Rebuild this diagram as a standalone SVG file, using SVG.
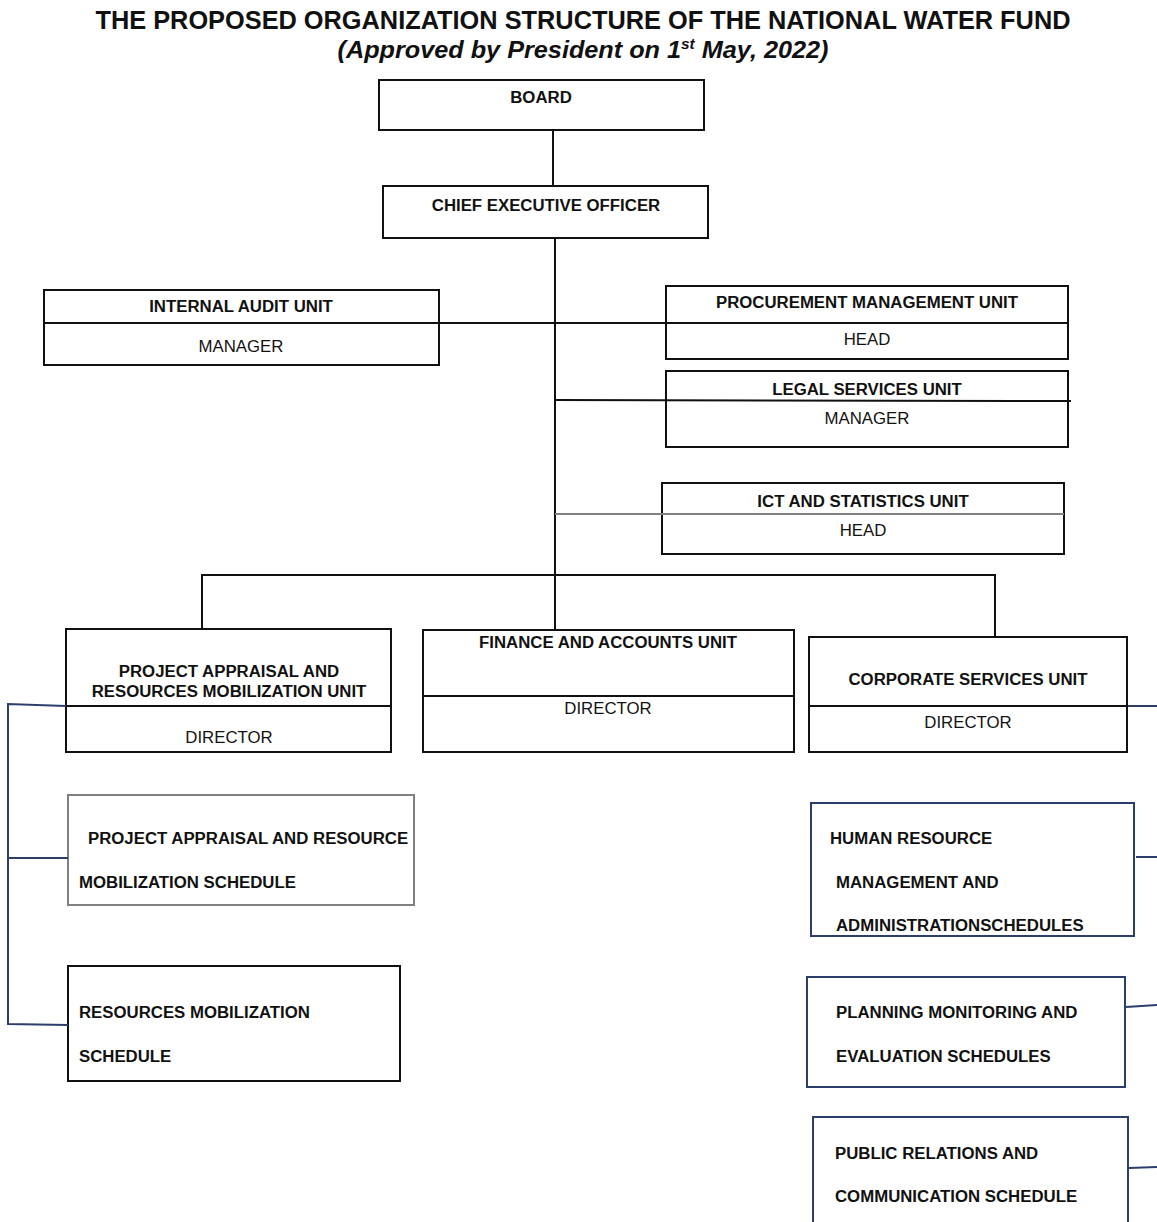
<svg xmlns="http://www.w3.org/2000/svg" width="1157" height="1222" viewBox="0 0 1157 1222">
<style>
text{font-family:"Liberation Sans",Arial,sans-serif;fill:#111}
.t{font-size:16.8px;font-weight:bold;text-anchor:middle}
.r{font-size:16.8px;text-anchor:middle}
.s{font-size:16.8px;font-weight:bold}
.box{fill:#fff;stroke:#111;stroke-width:2}
.obox{fill:none;stroke:#111;stroke-width:2}
.gbox{fill:#fff;stroke:#808080;stroke-width:2}
.nbox{fill:#fff;stroke:#2c3e6b;stroke-width:2}
.ln{stroke:#111;stroke-width:2;fill:none}
.gl{stroke:#808080;stroke-width:2;fill:none}
.nl{stroke:#2c3e6b;stroke-width:2;fill:none}
</style>
<rect width="1157" height="1222" fill="#fff"/>
<g id="title">
<text x="583" y="29" font-size="25" font-weight="bold" text-anchor="middle" textLength="975" lengthAdjust="spacingAndGlyphs">THE PROPOSED ORGANIZATION STRUCTURE OF THE NATIONAL WATER FUND</text>
<text x="583" y="58" font-size="23" font-weight="bold" font-style="italic" text-anchor="middle" textLength="491" lengthAdjust="spacingAndGlyphs">(Approved by President on 1<tspan font-size="14" dy="-9">st</tspan><tspan dy="9"> May, 2022)</tspan></text>
</g>
<g id="board">
<rect class="box" x="379" y="80" width="325" height="50"/>
<text class="t" x="541" y="103">BOARD</text>
</g>
<g id="ceo">
<rect class="box" x="383" y="186" width="325" height="52"/>
<text class="t" x="546" y="211">CHIEF EXECUTIVE OFFICER</text>
</g>
<g id="internal-audit">
<rect class="box" x="44" y="290" width="395" height="75"/>
<line class="ln" x1="44" y1="323" x2="439" y2="323"/>
<text class="t" x="241" y="312">INTERNAL AUDIT UNIT</text>
<text class="r" x="241" y="352">MANAGER</text>
</g>
<g id="procurement">
<rect class="box" x="666" y="286" width="402" height="73"/>
<line class="ln" x1="666" y1="323" x2="1068" y2="323"/>
<text class="t" x="867" y="308">PROCUREMENT MANAGEMENT UNIT</text>
<text class="r" x="867" y="345">HEAD</text>
</g>
<g id="legal">
<rect class="box" x="666" y="371" width="402" height="76"/>
<text class="t" x="867" y="395">LEGAL SERVICES UNIT</text>
<text class="r" x="867" y="424">MANAGER</text>
</g>
<g id="ict">
<rect class="box" x="662" y="483" width="402" height="71"/>
<text class="t" x="863" y="507">ICT AND STATISTICS UNIT</text>
<text class="r" x="863" y="536">HEAD</text>
</g>
<g id="parm-unit">
<rect class="box" x="66" y="629" width="325" height="123"/>
<line class="ln" x1="66" y1="706" x2="391" y2="706"/>
<text class="t" x="229" y="677">PROJECT APPRAISAL AND</text>
<text class="t" x="229" y="697">RESOURCES MOBILIZATION UNIT</text>
<text class="r" x="229" y="743">DIRECTOR</text>
</g>
<g id="finance">
<rect class="box" x="423" y="630" width="371" height="122"/>
<line class="ln" x1="423" y1="696" x2="794" y2="696"/>
<text class="t" x="608" y="648">FINANCE AND ACCOUNTS UNIT</text>
<text class="r" x="608" y="714">DIRECTOR</text>
</g>
<g id="corporate">
<rect class="box" x="809" y="637" width="318" height="115"/>
<line class="ln" x1="809" y1="706" x2="1127" y2="706"/>
<text class="t" x="968" y="685">CORPORATE SERVICES UNIT</text>
<text class="r" x="968" y="728">DIRECTOR</text>
</g>
<g id="par-schedule">
<rect class="gbox" x="68" y="795" width="346" height="110"/>
<text class="s" x="88" y="844">PROJECT APPRAISAL AND RESOURCE</text>
<text class="s" x="79" y="888">MOBILIZATION SCHEDULE</text>
</g>
<g id="rm-schedule">
<rect class="box" x="68" y="966" width="332" height="115"/>
<text class="s" x="79" y="1018">RESOURCES MOBILIZATION</text>
<text class="s" x="79" y="1062">SCHEDULE</text>
</g>
<g id="hr-schedule">
<rect class="nbox" x="811" y="803" width="323" height="133"/>
<text class="s" x="830" y="844">HUMAN RESOURCE</text>
<text class="s" x="836" y="888">MANAGEMENT AND</text>
<text class="s" x="836" y="931">ADMINISTRATIONSCHEDULES</text>
</g>
<g id="pme-schedule">
<rect class="nbox" x="807" y="977" width="318" height="110"/>
<text class="s" x="836" y="1018">PLANNING MONITORING AND</text>
<text class="s" x="836" y="1062">EVALUATION SCHEDULES</text>
</g>
<g id="pr-schedule">
<rect class="nbox" x="813" y="1117" width="315" height="115"/>
<text class="s" x="835" y="1159">PUBLIC RELATIONS AND</text>
<text class="s" x="835" y="1202">COMMUNICATION SCHEDULE</text>
</g>
<g id="connectors">
<line class="ln" x1="553" y1="130" x2="553" y2="186"/>
<line class="ln" x1="555" y1="238" x2="555" y2="629"/>
<line class="ln" x1="439" y1="323" x2="666" y2="323"/>
<line class="ln" x1="555" y1="400" x2="1071" y2="401"/>
<line class="gl" x1="555" y1="514" x2="1064" y2="514"/>
<polyline class="ln" points="202,628 202,575 995,575 995,637"/>
<polyline class="nl" points="66,706 8,704 8,1024 68,1025"/>
<line class="nl" x1="8" y1="858" x2="68" y2="858"/>
<line class="nl" x1="1128" y1="706" x2="1157" y2="706"/>
<line class="nl" x1="1136" y1="857" x2="1157" y2="857"/>
<line class="nl" x1="1126" y1="1007" x2="1157" y2="1005"/>
<line class="nl" x1="1129" y1="1168" x2="1157" y2="1167"/>
</g>
</svg>
